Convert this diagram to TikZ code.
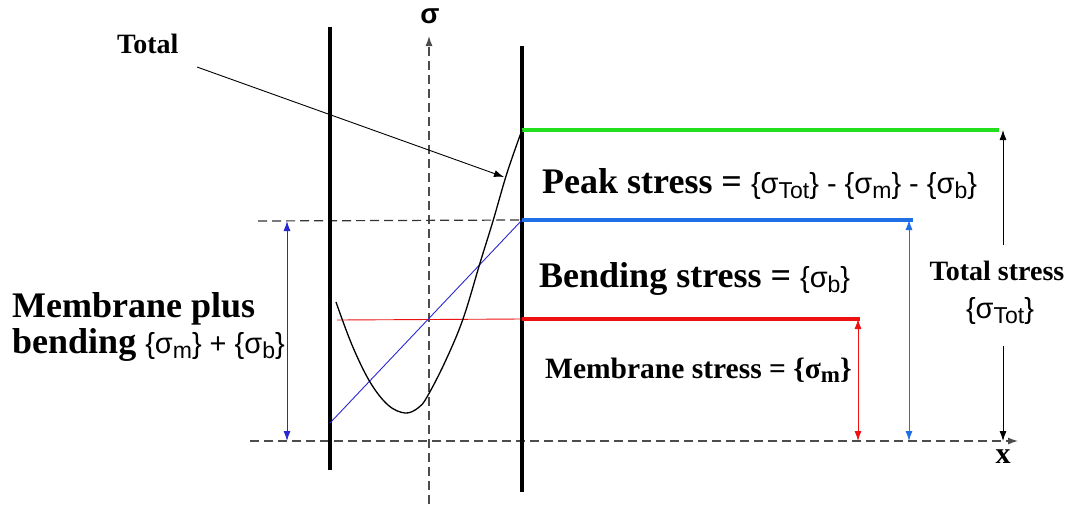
\documentclass[tikz,border=0pt]{standalone}
\usepackage{fontspec}
\setmainfont{Liberation Serif}
\newfontfamily\arialfont{Liberation Sans}
\usepackage{tikz}
\usetikzlibrary{arrows.meta, positioning, calc}
\definecolor{peakGreen}{HTML}{22E01E}
\definecolor{bendBlue}{HTML}{1F6FE6}
\definecolor{memRed}{HTML}{EE1111}
\definecolor{lineBlue}{HTML}{2828D2}
\newcommand{\sansfz}{\arialfont\mdseries\fontsize{29}{31}\selectfont}
\newcommand{\lowsub}[1]{\raisebox{-5pt}{\fontsize{23}{25}\selectfont #1}}

\begin{document}
\begin{tikzpicture}[x=1pt, y=-1pt,
    lbl/.style={inner sep=0pt, anchor=base west, font=\bfseries\fontsize{36}{38}\selectfont},
    slbl/.style={inner sep=0pt, anchor=base, font=\bfseries\fontsize{28}{30}\selectfont},
    wall/.style={line width=4pt},
    axisline/.style={line width=1.2pt, black!70, dash pattern=on 9pt off 5pt},
    band/.style={line width=3.5pt},
    arr/.style={-{Latex[length=10pt,width=7pt]}, line width=0.9pt},
    darr/.style={{Latex[length=10pt,width=7pt]}-{Latex[length=10pt,width=7pt]}, line width=0.9pt}
  ]
  \useasboundingbox (0,0) rectangle (1073,504);

  % key points
  \coordinate (lwT) at (330,27);   \coordinate (lwB) at (330,470);
  \coordinate (rwT) at (522,46);   \coordinate (rwB) at (522,492);
  \coordinate (peak) at (522,130); \coordinate (bend) at (522,220);
  \coordinate (mem) at (522,319);
  \coordinate (xs) at (250,441);   \coordinate (xe) at (1018,441);
  \coordinate (ss) at (429,504);   \coordinate (se) at (429,36);

  % axes
  \draw[axisline, -{Latex[length=10pt,width=7pt]}] (xs) -- (xe);
  \draw[axisline, -{Latex[length=10pt,width=7pt]}] (ss) -- (se);
  \draw[axisline, black!80] (258,221) -- (bend);

  % walls
  \draw[wall] (lwT) -- (lwB);
  \draw[wall] (rwT) -- (rwB);

  % stress levels
  \draw[band, peakGreen] (peak) -- (999,130);
  \draw[band, bendBlue] (bend) -- (913,220);
  \draw[band, memRed] (mem) -- (860,319);

  % distributions
  \draw[memRed, line width=0.9pt] (337,320) -- (mem);
  \draw[lineBlue, line width=0.9pt] (330,423) -- (bend);
  \draw[line width=1.3pt] plot[smooth, tension=0.6] coordinates {(336,302) (352,345) (370,382) (388,405) (405,413) (418,408) (427,397) (445,362) (463,319) (480,263) (493,221) (507,173) (peak)};

  % dimension arrows
  \draw[darr, memRed] (858,319) -- (858,441);
  \draw[darr, bendBlue] (909,220) -- (909,441);
  \draw[darr, lineBlue] (287,221) -- (287,441);

  % labels
  \node[inner sep=0pt, anchor=base, font=\arialfont\bfseries\fontsize{28}{30}\selectfont] (sigma) at (430,23) {σ};
  \node[inner sep=0pt, font=\bfseries\fontsize{30}{32}\selectfont] (xlbl) at (1003,457) {x};
  \node[slbl, anchor=base west] (total) at (117,53) {Total};
  \node[lbl] (peaklbl) at (542,193) {Peak stress = {\sansfz\{σ\lowsub{Tot}\} - \{σ\lowsub{m}\} - \{σ\lowsub{b}\}}};
  \node[lbl] (bendlbl) at (539,287) {Bending stress = {\sansfz\{σ\lowsub{b}\}}};
  \node[slbl, anchor=base west, font=\bfseries\fontsize{29.5}{31}\selectfont] (memlbl) at (545,378) {Membrane stress = \{σ\raisebox{-4pt}{\fontsize{23}{25}\selectfont m}\}};
  \node[lbl] (mplusA) at (12,317) {Membrane plus};
  \node[lbl] (mplusB) at (12,353) {bending {\sansfz\{σ\lowsub{m}\} + \{σ\lowsub{b}\}}};
  \node[slbl] (totA) at (997,280) {Total stress};
  \node[inner sep=0pt, anchor=base] (totB) at (1000,318) {\sansfz\{σ\lowsub{Tot}\}};

  \draw[arr] (totA.north -| 1003,0) ++(0,-15) -- (1003,130);
  \draw[arr] (totB.south -| 1003,0) ++(0,22) -- (1003,441);
  \draw[arr] (197,67) -- (504,177);
\end{tikzpicture}
\end{document}
